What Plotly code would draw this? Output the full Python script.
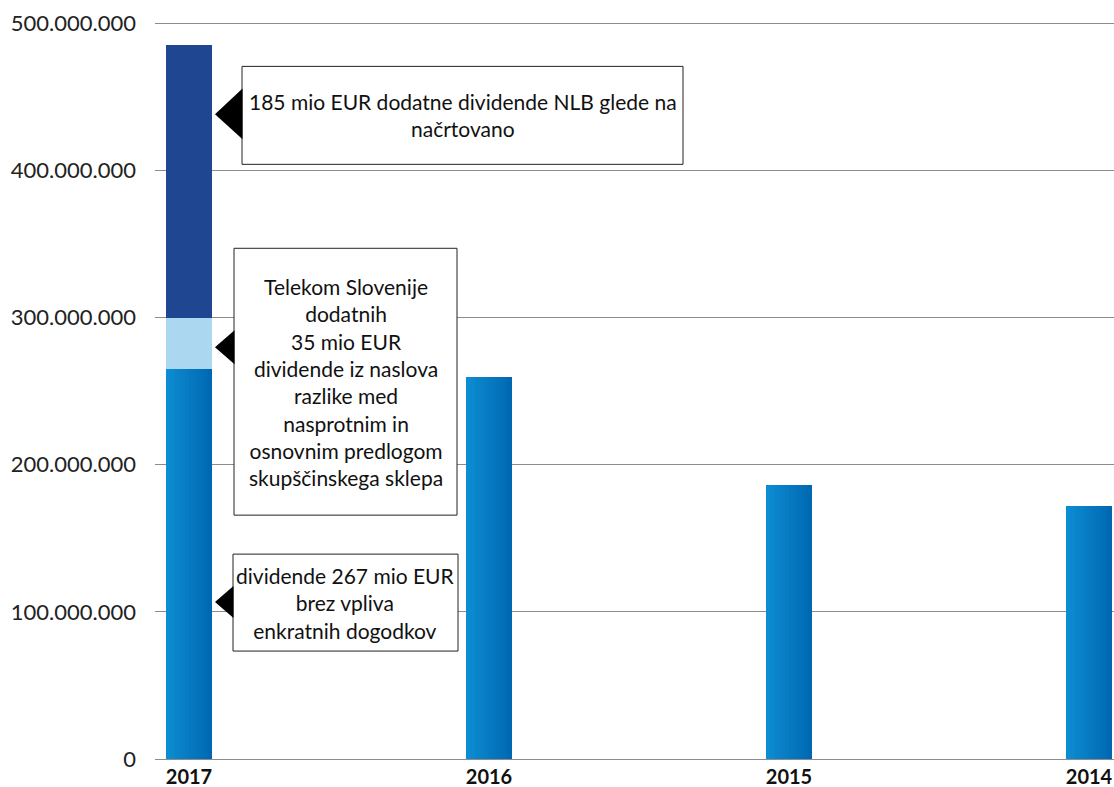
import plotly.graph_objects as go

years = ["2017", "2016", "2015", "2014"]
base_div = [265e6, 260e6, 186e6, 172e6]
telekom_extra = [35e6]
nlb_extra = [185e6]
ytick_vals = [0, 100e6, 200e6, 300e6, 400e6, 500e6]
ytick_text = ["0", "100.000.000", "200.000.000", "300.000.000", "400.000.000", "500.000.000"]

note_nlb = "185 mio EUR dodatne dividende NLB glede na<br>načrtovano"
note_tel = ("Telekom Slovenije<br>dodatnih<br>35 mio EUR<br>dividende iz naslova<br>"
            "razlike med<br>nasprotnim in<br>osnovnim predlogom<br>skupščinskega sklepa")
note_base = "dividende 267 mio EUR<br>brez vpliva<br>enkratnih dogodkov"

xpos = list(range(len(years)))
W = 0.155
N = 12
c0 = (12, 140, 210)
c1 = (0, 104, 178)
FONT = "Lato, Open Sans, sans-serif"

fig = go.Figure()
for k in range(N):
    t = k / (N - 1)
    col = "rgb(%d,%d,%d)" % tuple(round(c0[i] + (c1[i] - c0[i]) * t) for i in range(3))
    off = -W / 2 + W * k / N
    fig.add_trace(go.Bar(x=xpos, y=base_div, offset=off, width=W - W * k / N,
                         marker=dict(color=col, line=dict(width=0)),
                         showlegend=False, hoverinfo="skip"))
fig.add_trace(go.Bar(x=[0], y=telekom_extra, base=[base_div[0]], width=W,
                     marker=dict(color="#acd7f1", line=dict(width=0)), showlegend=False))
fig.add_trace(go.Bar(x=[0], y=nlb_extra, base=[base_div[0] + telekom_extra[0]], width=W,
                     marker=dict(color="#1f4690", line=dict(width=0)), showlegend=False))

YMAX = 503e6
L, R, B = 155, 1114, 759
PX_PER = (759 - 23) / 500e6
T = B - YMAX * PX_PER
def px(x): return (x - L) / (R - L)
def py(y): return (B - y) / (B - T)

shapes = []
annots = []
boxes = [
    (242, 66, 683, 164, 114, 88, 139, note_nlb),
    (234, 248, 457, 515, 347, 330, 364, note_tel),
    (233, 554, 458, 651, 602, 586, 618, note_base),
]
for x0, y0, x1, y1, ty, b0, b1, txt in boxes:
    shapes.append(dict(type="rect", xref="paper", yref="paper",
                       x0=px(x0), x1=px(x1), y0=py(y1), y1=py(y0),
                       line=dict(color="#222", width=1), fillcolor="white", layer="above"))
    shapes.append(dict(type="path", xref="paper", yref="paper",
                       path="M %f,%f L %f,%f L %f,%f Z" % (px(215), py(ty), px(x0 + 0.5), py(b0), px(x0 + 0.5), py(b1)),
                       line=dict(width=0), fillcolor="black", layer="above"))
    annots.append(dict(xref="paper", yref="paper", x=px((x0 + x1) / 2), y=py((y0 + y1) / 2),
                       text=txt, showarrow=False, align="center", xanchor="center", yanchor="middle",
                       font=dict(family=FONT, size=21, color="#111")))

fig.update_layout(
    width=1114, height=787,
    margin=dict(l=L, r=1114 - R, t=T, b=787 - B),
    barmode="overlay",
    plot_bgcolor="white", paper_bgcolor="white",
    shapes=shapes, annotations=annots,
    xaxis=dict(range=[-(189 - L) / 300, (R - 189) / 300], tickvals=xpos, ticktext=years,
               showgrid=False, zeroline=False, showline=False, ticks="", ticklabelstandoff=4,
               tickfont=dict(family=FONT, size=20, color="#111", weight="bold")),
    yaxis=dict(range=[0, YMAX], tickvals=ytick_vals, ticktext=ytick_text,
               showgrid=True, gridcolor="#8c8c8c", gridwidth=1,
               zeroline=True, zerolinecolor="#8c8c8c", zerolinewidth=1, showline=False,
               ticks="", ticklabelstandoff=18,
               tickfont=dict(family=FONT, size=22, color="#222")),
    bargap=0,
)
fig.write_html("out.html")
